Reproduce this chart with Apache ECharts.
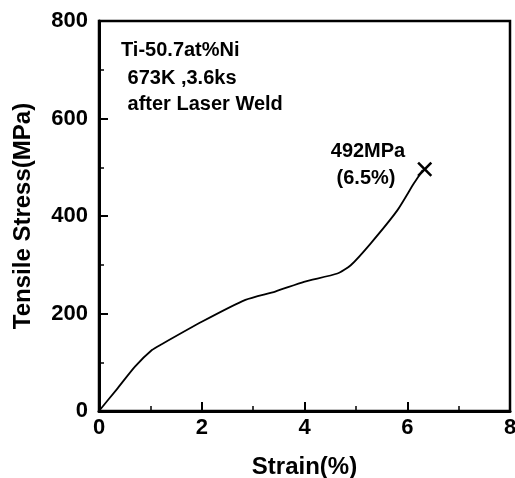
<!DOCTYPE html>
<html><head><meta charset="utf-8">
<script src="https://cdn.jsdelivr.net/npm/echarts@6/dist/echarts.min.js"></script>
<style>html,body{margin:0;padding:0;background:#fff}#c{width:515px;height:478px}</style>
</head><body><div id="c"></div>
<script>
const strain = [0, 0.35, 0.70, 1.03, 1.22, 2.0, 2.85, 3.43, 3.99, 4.64, 4.90, 5.29, 5.81, 6.13, 6.30];
const stress = [0, 45, 91, 125, 137, 183, 228, 245, 265, 282, 299, 344, 412, 467, 494];
const breakPoint = [6.34, 496];
const xTicks = [0, 2, 4, 6, 8];
const yTicks = [0, 200, 400, 600, 800];
const noteLines = ['Ti-50.7at%Ni', ' 673K ,3.6ks', ' after Laser Weld'];
const breakLabel = ['492MPa', '(6.5%)'];

const FONT = 'Liberation Sans';
const chart = echarts.init(document.getElementById('c'));
chart.setOption({
  animation: false,
  backgroundColor: '#fff',
  grid: {left: 99, right: 5, top: 21, bottom: 67, outerBoundsMode: 'none', containLabel: false,
         show: true, borderColor: '#000', borderWidth: 2.5},
  xAxis: {
    type: 'value', min: 0, max: 8, interval: 2,
    name: 'Strain(%)', nameLocation: 'middle', nameGap: 44,
    nameTextStyle: {fontFamily: FONT, fontWeight: 'bold', fontSize: 24, color: '#000'},
    axisLine: {show: true, onZero: false, lineStyle: {color: '#000', width: 3}},
    axisTick: {show: true, inside: true, length: 9, lineStyle: {color: '#000', width: 2}},
    minorTick: {show: true, splitNumber: 2, length: 5, lineStyle: {color: '#000', width: 1.5}},
    splitLine: {show: false},
    axisLabel: {fontFamily: FONT, fontWeight: 'bold', fontSize: 22, color: '#000', margin: 6,
      formatter: v => xTicks.includes(v) ? String(v) : ''}
  },
  yAxis: {
    type: 'value', min: 0, max: 800, interval: 200,
    name: 'Tensile Stress(MPa)', nameLocation: 'middle', nameGap: 64,
    nameTextStyle: {fontFamily: FONT, fontWeight: 'bold', fontSize: 24, color: '#000'},
    axisLine: {show: true, onZero: false, lineStyle: {color: '#000', width: 3}},
    axisTick: {show: true, inside: true, length: 9, lineStyle: {color: '#000', width: 2}},
    minorTick: {show: true, splitNumber: 2, length: 5, lineStyle: {color: '#000', width: 1.5}},
    splitLine: {show: false},
    axisLabel: {fontFamily: FONT, fontWeight: 'bold', fontSize: 22, color: '#000', margin: 11,
      formatter: v => yTicks.includes(v) ? String(v) : ''}
  },
  series: [
    {type: 'line', data: strain.map((x, i) => [x, stress[i]]), smooth: 0.2, showSymbol: false,
     lineStyle: {color: '#000', width: 1.8}},
    {type: 'scatter', data: [breakPoint], symbol: 'path://M0,1.2 L1.2,0 L5,3.8 L8.8,0 L10,1.2 L6.2,5 L10,8.8 L8.8,10 L5,6.2 L1.2,10 L0,8.8 L3.8,5 Z',
     symbolSize: 15, itemStyle: {color: '#000', opacity: 1}}
  ],
  graphic: [
    {type: 'text', x: 121, y: 50, style: {text: noteLines[0], font: 'bold 20px "Liberation Sans"', fill: '#000', verticalAlign: 'middle'}},
    {type: 'text', x: 122, y: 78, style: {text: noteLines[1], font: 'bold 20px "Liberation Sans"', fill: '#000', verticalAlign: 'middle'}},
    {type: 'text', x: 122, y: 104, style: {text: noteLines[2], font: 'bold 20px "Liberation Sans"', fill: '#000', verticalAlign: 'middle'}},
    {type: 'text', x: 368, y: 151, style: {text: breakLabel[0], font: 'bold 20px "Liberation Sans"', fill: '#000', align: 'center', verticalAlign: 'middle'}},
    {type: 'text', x: 366, y: 178, style: {text: breakLabel[1], font: 'bold 20px "Liberation Sans"', fill: '#000', align: 'center', verticalAlign: 'middle'}}
  ]
});
</script></body></html>
